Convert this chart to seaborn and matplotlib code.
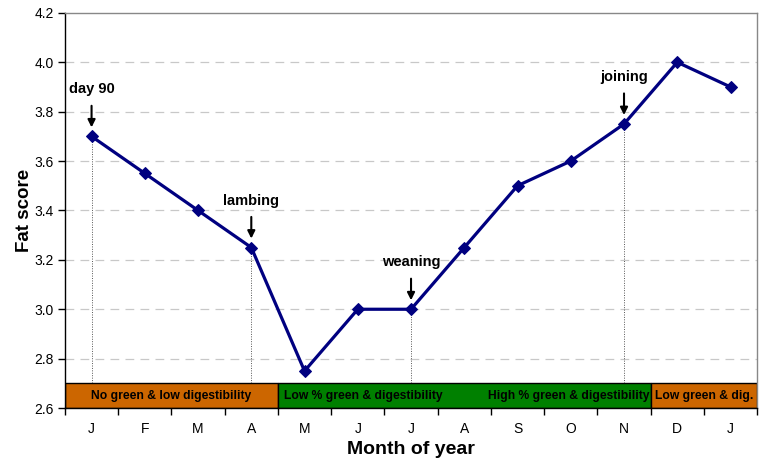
import matplotlib
matplotlib.use("Agg")
import matplotlib.pyplot as plt
import seaborn as sns
import pandas as pd
import numpy as np

months = ["J", "F", "M", "A", "M", "J", "J", "A", "S", "O", "N", "D", "J"]
fat_score = [3.7, 3.55, 3.4, 3.25, 2.75, 3.0, 3.0, 3.25, 3.5, 3.6, 3.75, 4.0, 3.9]

# events marked with an arrow and a dotted drop line: (month index, label)
event_idx = [0, 3, 6, 10]
event_labels = ["day 90", "lambing", "weaning", "joining"]

# pasture condition bands: (start, end) in month slots, colour, text
band_starts = [-0.5, 3.5, 10.5]
band_ends = [3.5, 10.5, 12.5]
band_colors = ["#CC6600", "#008000", "#CC6600"]
band_texts = [["No green & low digestibility"],
              ["Low % green & digestibility", "High % green & digestibility"],
              ["Low green & dig."]]

sns.set_theme(style="white")
plt.rcParams["font.family"] = ["Liberation Sans", "DejaVu Sans"]
plt.rcParams["text.color"] = "black"
plt.rcParams["axes.labelcolor"] = "black"
plt.rcParams["xtick.color"] = "black"
plt.rcParams["ytick.color"] = "black"

df = pd.DataFrame({"pos": np.arange(len(months)), "score": fat_score})

fig = plt.figure(figsize=(7.64, 4.59), dpi=100)
ax = fig.add_axes([0.085, 0.111, 0.906, 0.861])

y0, y1 = 2.6, 4.2
band_top = 2.7
ax.set_xlim(-0.5, len(months) - 0.5)
ax.set_ylim(y0, y1)

# dashed horizontal grid
for yv in np.arange(2.8, 4.01, 0.2):
    ax.axhline(yv, color="#c8c8c8", lw=0.9, ls=(0, (7, 5)), zorder=0)

# dotted drop lines from events down to the band
for i in event_idx:
    ax.plot([i, i], [band_top, fat_score[i]], color="#555555", lw=0.7,
            ls=(0, (1, 1.5)), zorder=1)

sns.lineplot(data=df, x="pos", y="score", ax=ax, color="#000080", lw=2.3,
             marker="D", markersize=6, markeredgecolor="#000080", zorder=3)

# bands along the bottom
for s, e, c, texts in zip(band_starts, band_ends, band_colors, band_texts):
    ax.add_patch(plt.Rectangle((s, y0), e - s, band_top - y0, facecolor=c,
                               edgecolor="black", lw=1.0, zorder=2))
    if len(texts) == 1:
        ax.text((s + e) / 2, (y0 + band_top) / 2, texts[0], ha="center",
                va="center", fontsize=8.7, fontweight="bold", zorder=4)
    else:
        ax.text(s + 0.12, (y0 + band_top) / 2, texts[0], ha="left",
                va="center", fontsize=8.7, fontweight="bold", zorder=4)
        ax.text(e - 0.02, (y0 + band_top) / 2, texts[1], ha="right",
                va="center", fontsize=8.7, fontweight="bold", zorder=4)

# event arrows and labels
for i, lab in zip(event_idx, event_labels):
    v = fat_score[i]
    ax.annotate("", xy=(i, v + 0.025), xytext=(i, v + 0.135),
                arrowprops=dict(arrowstyle="-|>", color="black", lw=1.5,
                                mutation_scale=11), zorder=5)
    ax.text(i, v + 0.19, lab, ha="center", va="center", fontsize=10.5,
            fontweight="bold", zorder=5)

# axes styling
ax.set_yticks(np.round(np.arange(2.6, 4.21, 0.2), 1))
ax.set_yticklabels([f"{t:.1f}" for t in np.arange(2.6, 4.21, 0.2)], fontsize=10)
ax.set_xticks(np.arange(-0.5, len(months)), labels=[""] * (len(months) + 1))
ax.set_xticks(np.arange(len(months)), labels=months, minor=True)
ax.tick_params(axis="x", which="major", direction="out", length=5, width=1,
               color="black", bottom=True)
ax.tick_params(axis="x", which="minor", length=0, labelsize=10, pad=10)
ax.tick_params(axis="y", direction="out", length=5, width=1, color="black",
               left=True, pad=3)

for side in ["left", "bottom"]:
    ax.spines[side].set_color("black")
    ax.spines[side].set_linewidth(1.0)
for side in ["top", "right"]:
    ax.spines[side].set_color("#888888")
    ax.spines[side].set_linewidth(1.0)
    ax.spines[side].set_visible(True)

ax.set_xlabel("Month of year", fontsize=14, fontweight="bold", labelpad=4)
ax.set_ylabel("Fat score", fontsize=13.5, fontweight="bold", labelpad=1)

fig.savefig("out.png", dpi=100)
